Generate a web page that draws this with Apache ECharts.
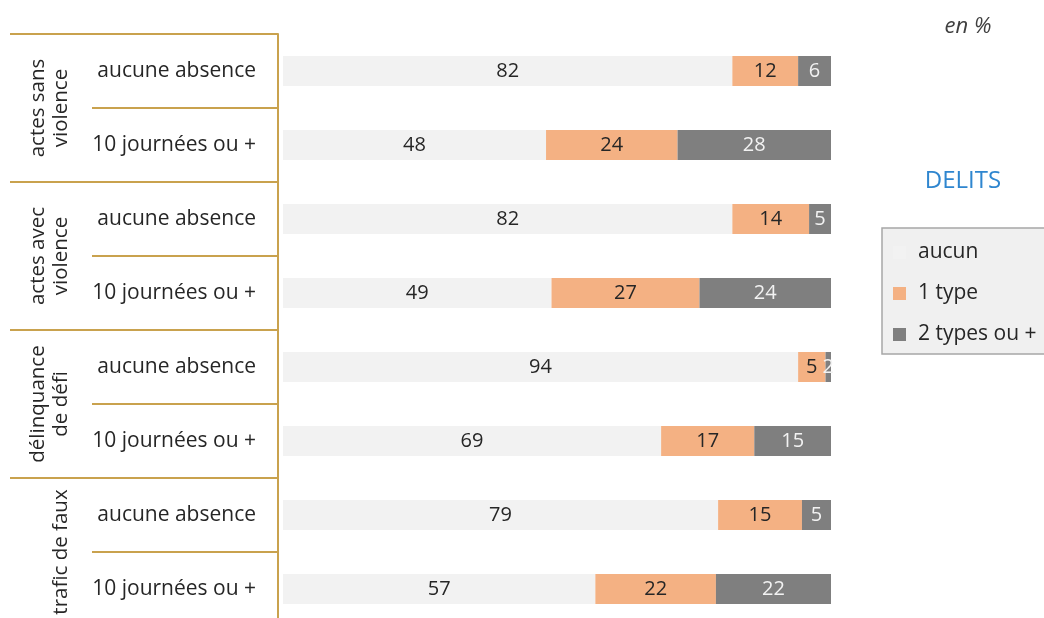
<!DOCTYPE html>
<html>
<head>
<meta charset="utf-8">
<script src="https://cdn.jsdelivr.net/npm/echarts@6/dist/echarts.min.js"></script>
<style>
  html, body { margin: 0; padding: 0; background: #fff; }
  #chart { width: 1044px; height: 618px; }
</style>
</head>
<body>
<div id="chart"></div>
<script>
// données (en %)
var groupes = ['actes sans\nviolence', 'actes avec\nviolence', 'délinquance\nde défi', 'trafic de faux'];
var lignes = ['aucune absence', '10 journées ou +', 'aucune absence', '10 journées ou +',
              'aucune absence', '10 journées ou +', 'aucune absence', '10 journées ou +'];
var aucun = [82, 48, 82, 49, 94, 69, 79.4, 57];
var unType = [12, 24, 14, 27, 5, 17, 15.3, 22];
var deuxTypes = [6, 28, 5, 24, 2, 15, 5.3, 22];

var police = '"Open Sans", Lato, sans-serif';
var or = '#c9a24e';

var myChart = echarts.init(document.getElementById('chart'));

function serie(nom, data, couleur, couleurTexte) {
    return {
        name: nom,
        type: 'bar',
        stack: 'total',
        yAxisIndex: 0,
        barWidth: 30,
        data: data,
        itemStyle: { color: couleur },
        label: {
            show: true,
            position: 'inside',
            color: couleurTexte,
            fontFamily: police,
            fontSize: 20,
            formatter: function (p) { return Math.round(p.value); }
        }
    };
}

myChart.setOption({
    animation: false,
    title: [{
        text: 'en %',
        left: 963, top: 11,
        textAlign: 'center',
        textStyle: { fontFamily: police, fontSize: 22, fontStyle: 'italic', fontWeight: 'normal', color: '#404040' }
    }, {
        text: 'DELITS',
        left: 958, top: 164,
        textAlign: 'center',
        textStyle: { fontFamily: police, fontSize: 24, fontWeight: 'normal', color: '#2f86cf' }
    }],
    legend: {
        orient: 'vertical',
        left: 882, top: 228,
        padding: [14, 60, 9, 11],
        backgroundColor: '#f0f0f0',
        borderColor: '#a6a6a6',
        borderWidth: 1.5,
        itemWidth: 13, itemHeight: 13,
        itemGap: 20,
        icon: 'rect',
        textStyle: { fontFamily: police, fontSize: 21, color: '#262626', padding: [0, 0, 0, 7] },
        data: ['aucun', '1 type', '2 types ou +']
    },
    grid: { left: 283, right: 213, top: 34, height: 592, outerBoundsMode: 'none', containLabel: false },
    xAxis: {
        type: 'value', min: 0, max: 100, show: false
    },
    yAxis: [{
        type: 'category',
        inverse: true,
        position: 'left',
        offset: 5,
        data: lignes,
        axisLine: { show: true, onZero: false, lineStyle: { color: or, width: 2 } },
        axisTick: { show: true, interval: 0, length: 186, lineStyle: { color: or, width: 2 } },
        axisLabel: { interval: 0, margin: 22, fontFamily: police, fontSize: 21, color: '#262626' }
    }, {
        type: 'category',
        inverse: true,
        position: 'left',
        offset: 5,
        data: groupes,
        axisLine: { show: false, onZero: false },
        axisTick: { show: true, interval: 0, length: 268, lineStyle: { color: or, width: 2 } },
        axisLabel: { interval: 0, rotate: 90, margin: 205, lineHeight: 23, fontFamily: police, fontSize: 20.5, color: '#262626' }
    }],
    series: [
        serie('aucun', aucun, '#f2f2f2', '#262626'),
        serie('1 type', unType, '#f4b183', '#262626'),
        serie('2 types ou +', deuxTypes, '#7f7f7f', '#f2f2f2')
    ]
});
</script>
</body>
</html>
